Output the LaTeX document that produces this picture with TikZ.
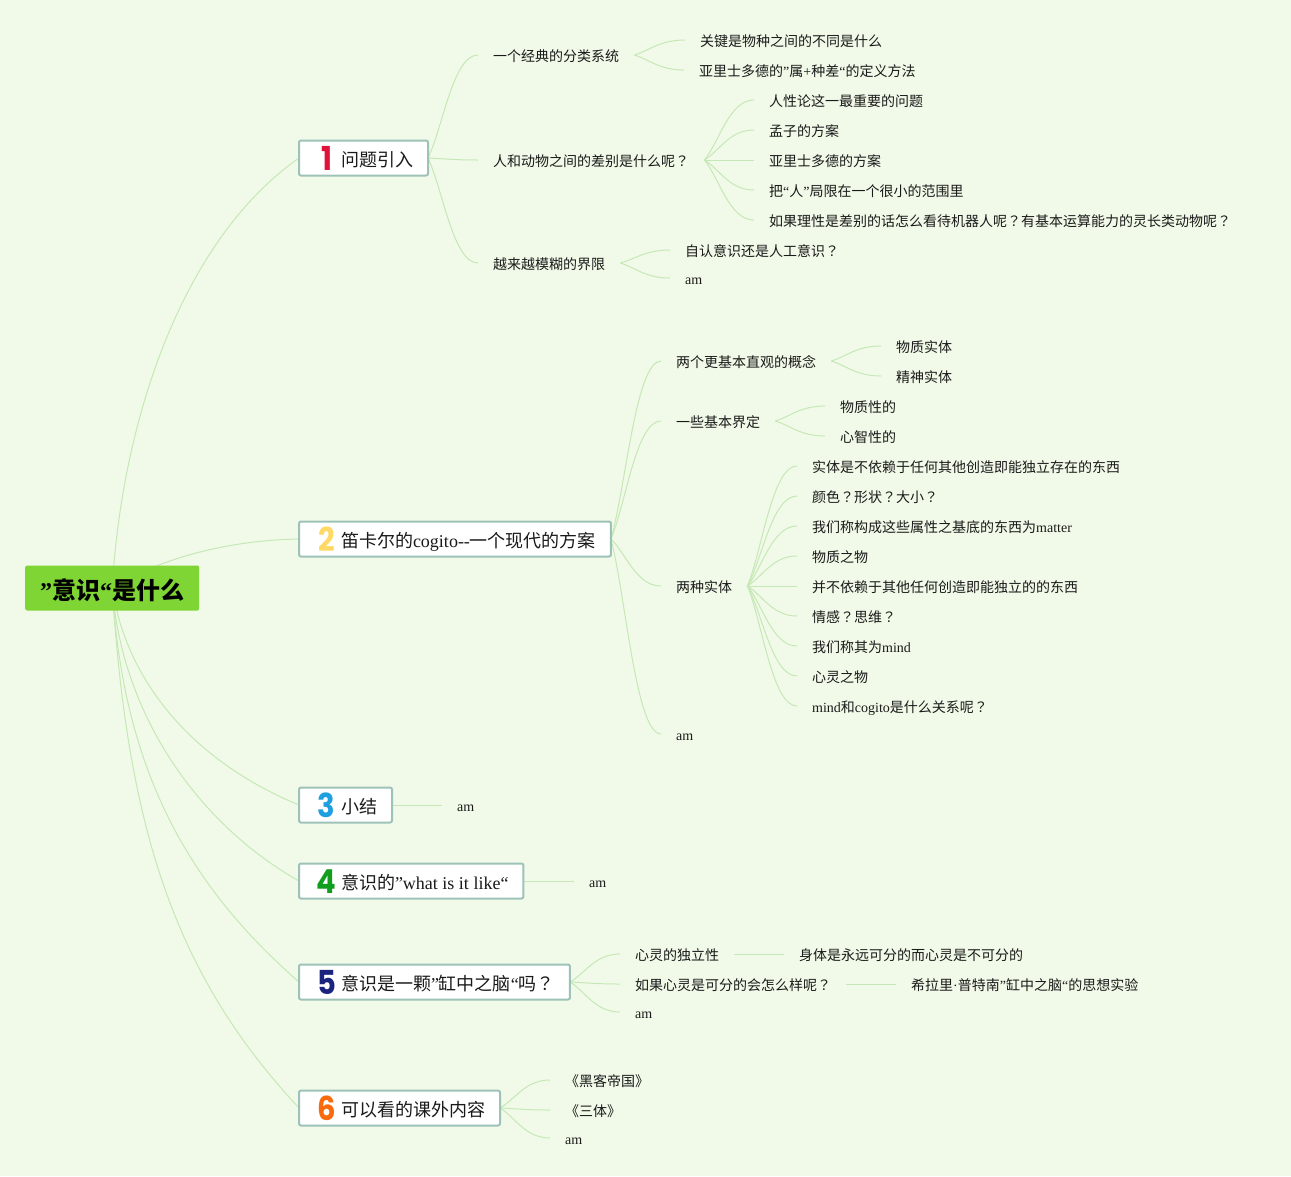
\documentclass[tikz,border=0pt]{standalone}
\usepackage{fontspec}
\usepackage{tikz}
\usetikzlibrary{backgrounds}
\usetikzlibrary{calc}
\setmainfont{Liberation Serif}
\newfontfamily\cjk{Noto Sans CJK SC}
\newfontfamily\cjkq{Noto Sans CJK TC}
\newfontfamily\digitfont{Poppins}
\newcommand{\zh}[1]{{\cjk #1}}
\newcommand{\qm}{{\cjkq ？}}
\newcommand{\badge}[2]{\makebox[27pt][c]{\hspace{-2pt}\color{#1}\digitfont\bfseries\fontsize{33}{33}\selectfont\raisebox{-3.5pt}{\scalebox{.88}[1]{#2}}}}
\definecolor{paper}{HTML}{F1FAE8}
\definecolor{rootgreen}{HTML}{7ED534}
\definecolor{linkgreen}{HTML}{C6E8B6}
\definecolor{topicline}{HTML}{9DC3B9}
\definecolor{ink}{HTML}{1A1A1A}
\definecolor{one}{HTML}{E0123A}
\definecolor{two}{HTML}{FFD966}
\definecolor{three}{HTML}{1E9FE0}
\definecolor{four}{HTML}{119E1E}
\definecolor{five}{HTML}{1A237E}
\definecolor{six}{HTML}{F96A0E}

\begin{document}
\begin{tikzpicture}[x=1pt,y=-1pt,
    rootbox/.style={anchor=west,fill=rootgreen,rounded corners=2pt,minimum height=45pt,
        inner xsep=15pt,inner ysep=0pt,text height=23pt,text depth=0pt,
        font=\fontsize{24}{24}\selectfont\bfseries,text=black},
    topic/.style={anchor=west,draw=topicline,fill=white,line width=2pt,rounded corners=2pt,
        minimum height=35pt,inner xsep=15pt,inner ysep=0pt,outer sep=0pt,text=ink,
        text height=17pt,text depth=0pt,font=\fontsize{18}{18}\selectfont},
    leaf/.style={anchor=west,yshift=1pt,inner xsep=15pt,inner ysep=0pt,text height=15pt,text depth=3pt,
        text=ink,font=\fontsize{14}{14}\selectfont},
    link/.style={draw=linkgreen,line width=1pt},
    branch/.style={to path={.. controls ($(\tikztostart)!.3!(\tikztotarget)$)
        and ($(\tikztotarget)!.5!(\tikztostart |- \tikztotarget)$) .. (\tikztotarget)}}]

    \begin{pgfonlayer}{background}
        \fill[paper] (0,0) rectangle (1291,1176);
    \end{pgfonlayer}
    \useasboundingbox (0,0) rectangle (1291,1176);

    % root and the six numbered topics
    \node[rootbox] (root) at (25,588) {”\zh{意识}“\zh{是什么}};
    \node[topic] (t1) at (299,158) {\badge{one}{1}\zh{问题引入}};
    \node[topic] (t2) at (299,539) {\badge{two}{2}\zh{笛卡尔的}cogito-{}-\zh{一个现代的方案}};
    \node[topic] (t3) at (299,805) {\badge{three}{3}\zh{小结}};
    \node[topic] (t4) at (299,881) {\badge{four}{4}\zh{意识的}”what is it like“};
    \node[topic] (t5) at (299,982) {\badge{five}{5}\zh{意识是一颗}”\zh{缸中之脑}“\zh{吗}\qm};
    \node[topic] (t6) at (299,1108) {\badge{six}{6}\zh{可以看的课外内容}};

    % first topic
    \node[leaf] (a1) at (478,56) {\zh{一个经典的分类系统}};
    \node[leaf] (a11) at (685,41) {\zh{关键是物种之间的不同是什么}};
    \node[leaf] (a12) at (684,71) {\zh{亚里士多德的}”\zh{属}+\zh{种差}“\zh{的定义方法}};
    \node[leaf] (a2) at (478,161) {\zh{人和动物之间的差别是什么呢}\qm};
    \node[leaf] (a21) at (754,101) {\zh{人性论这一最重要的问题}};
    \node[leaf] (a22) at (754,131) {\zh{孟子的方案}};
    \node[leaf] (a23) at (754,161) {\zh{亚里士多德的方案}};
    \node[leaf] (a24) at (754,191) {\zh{把}“\zh{人}”\zh{局限在一个很小的范围里}};
    \node[leaf] (a25) at (754,221) {\zh{如果理性是差别的话怎么看待机器人呢}\qm\zh{有基本运算能力的灵长类动物呢}\qm};
    \node[leaf] (a3) at (478,264) {\zh{越来越模糊的界限}};
    \node[leaf] (a31) at (670,251) {\zh{自认意识还是人工意识}\qm};
    \node[leaf] (a32) at (670,279) {am};

    % second topic
    \node[leaf] (b1) at (661,362) {\zh{两个更基本直观的概念}};
    \node[leaf] (b11) at (881,347) {\zh{物质实体}};
    \node[leaf] (b12) at (881,377) {\zh{精神实体}};
    \node[leaf] (b2) at (661,422) {\zh{一些基本界定}};
    \node[leaf] (b21) at (825,407) {\zh{物质性的}};
    \node[leaf] (b22) at (825,437) {\zh{心智性的}};
    \node[leaf] (b3) at (661,587) {\zh{两种实体}};
    \node[leaf] (b31) at (797,467) {\zh{实体是不依赖于任何其他创造即能独立存在的东西}};
    \node[leaf] (b32) at (797,497) {\zh{颜色}\qm\zh{形状}\qm\zh{大小}\qm};
    \node[leaf] (b33) at (797,527) {\zh{我们称构成这些属性之基底的东西为}matter};
    \node[leaf] (b34) at (797,557) {\zh{物质之物}};
    \node[leaf] (b35) at (797,587) {\zh{并不依赖于其他任何创造即能独立的的东西}};
    \node[leaf] (b36) at (797,617) {\zh{情感}\qm\zh{思维}\qm};
    \node[leaf] (b37) at (797,647) {\zh{我们称其为}mind};
    \node[leaf] (b38) at (797,677) {\zh{心灵之物}};
    \node[leaf] (b39) at (797,707) {mind\zh{和}cogito\zh{是什么关系呢}\qm};
    \node[leaf] (b4) at (661,735) {am};

    % the small topics
    \node[leaf] (c1) at (442,806) {am};
    \node[leaf] (d1) at (574,882) {am};
    \node[leaf] (e1) at (620,955) {\zh{心灵的独立性}};
    \node[leaf] (e11) at (784,955) {\zh{身体是永远可分的而心灵是不可分的}};
    \node[leaf] (e2) at (620,985) {\zh{如果心灵是可分的会怎么样呢}\qm};
    \node[leaf] (e21) at (896,985) {\zh{希拉里}·\zh{普特南}”\zh{缸中之脑}“\zh{的思想实验}};
    \node[leaf] (e3) at (620,1013) {am};
    \node[leaf] (f1) at (550,1081) {\zh{《黑客帝国》}};
    \node[leaf] (f2) at (550,1111) {\zh{《三体》}};
    \node[leaf] (f3) at (550,1139) {am};

    \begin{pgfonlayer}{background}
        \begin{scope}[link]
            % from the root
            \draw (root.center) .. controls (122,420) and (182,240) .. (t1.west);
            \draw (root.center) .. controls (160,558) and (230,540) .. (t2.west);
            \draw (root.center) .. controls (128,690) and (202,765) .. (t3.west);
            \draw (root.center) .. controls (122,717) and (200,825) .. (t4.west);
            \draw (root.center) .. controls (123,770) and (188,885) .. (t5.west);
            \draw (root.center) .. controls (128,840) and (180,980) .. (t6.west);

            \draw (t1.east) to[branch] (a1.west);
            \draw (t1.east) to[branch] (a2.west);
            \draw (t1.east) to[branch] (a3.west);
            \draw (a1.east) to[branch] (a11.west);
            \draw (a1.east) to[branch] (a12.west);
            \draw (a2.east) to[branch] (a21.west);
            \draw (a2.east) to[branch] (a22.west);
            \draw (a2.east) -- (a23.west);
            \draw (a2.east) to[branch] (a24.west);
            \draw (a2.east) to[branch] (a25.west);
            \draw (a3.east) to[branch] (a31.west);
            \draw (a3.east) to[branch] (a32.west);

            \draw (t2.east) to[branch] (b1.west);
            \draw (t2.east) to[branch] (b2.west);
            \draw (t2.east) to[branch] (b3.west);
            \draw (t2.east) to[branch] (b4.west);
            \draw (b1.east) to[branch] (b11.west);
            \draw (b1.east) to[branch] (b12.west);
            \draw (b2.east) to[branch] (b21.west);
            \draw (b2.east) to[branch] (b22.west);
            \draw (b3.east) to[branch] (b31.west);
            \draw (b3.east) to[branch] (b32.west);
            \draw (b3.east) to[branch] (b33.west);
            \draw (b3.east) to[branch] (b34.west);
            \draw (b3.east) -- (b35.west);
            \draw (b3.east) to[branch] (b36.west);
            \draw (b3.east) to[branch] (b37.west);
            \draw (b3.east) to[branch] (b38.west);
            \draw (b3.east) to[branch] (b39.west);

            \draw (t3.east) -- (c1.west);
            \draw (t4.east) -- (d1.west);

            \draw (t5.east) to[branch] (e1.west);
            \draw (t5.east) to[branch] (e2.west);
            \draw (t5.east) to[branch] (e3.west);
            \draw (e1.east) -- (e11.west);
            \draw (e2.east) -- (e21.west);

            \draw (t6.east) to[branch] (f1.west);
            \draw (t6.east) to[branch] (f2.west);
            \draw (t6.east) to[branch] (f3.west);
        \end{scope}
    \end{pgfonlayer}

\end{tikzpicture}
\end{document}
